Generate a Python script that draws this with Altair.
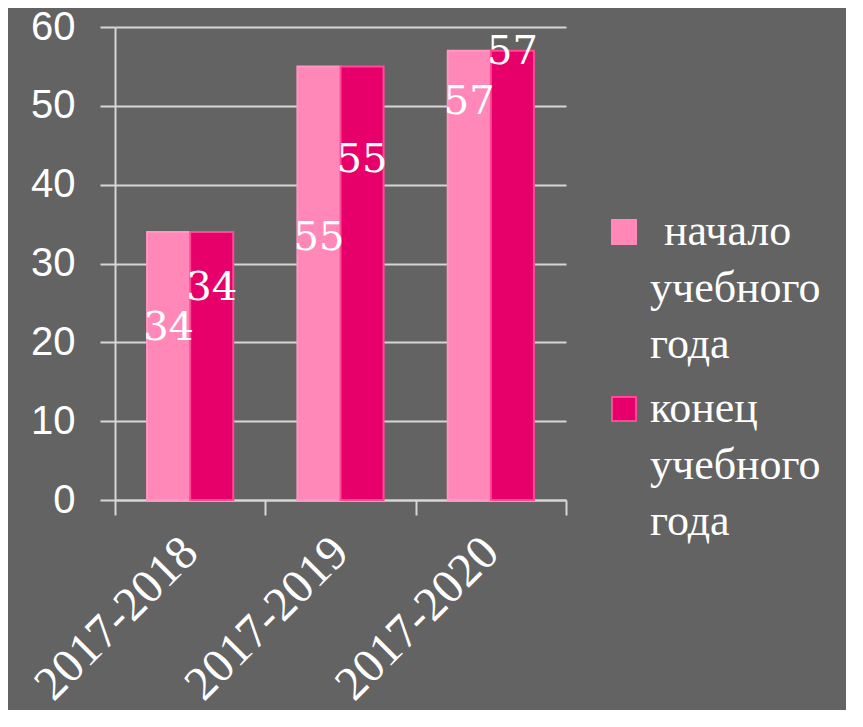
import altair as alt
import pandas as pd

years = ["2017-2018", "2017-2019", "2017-2020"]
series = ["начало учебного года", "конец учебного года"]
start_values = [34, 55, 57]
end_values = [34, 55, 57]
# how far (in axis units) each value label sits below its bar top
start_label_drop = [12.2, 21.8, 6.5]
end_label_drop = [7.1, 11.9, 0.2]
legend_lines = [["начало", "учебного", "года"], ["конец", "учебного", "года"]]
legend_first_indent = [14, 0]

fill_colors = ["#FF88B8", "#E8006A"]
stroke_colors = ["#FF97C2", "#FF4A95"]

rows = []
for i, yr in enumerate(years):
    rows.append({"year": yr, "series": series[0], "value": start_values[i],
                 "label_y": start_values[i] - start_label_drop[i]})
    rows.append({"year": yr, "series": series[1], "value": end_values[i],
                 "label_y": end_values[i] - end_label_drop[i]})
df = pd.DataFrame(rows)

GRID = "#D6D6D6"

x_enc = alt.X(
    "year:N", sort=years, title=None,
    scale=alt.Scale(paddingInner=0, paddingOuter=0),
    axis=alt.Axis(
        labelAngle=-45, labelFont="Liberation Serif", labelFontSize=48,
        labelColor="white", labelAlign="right", labelBaseline="middle",
        labelPadding=30, labelLimit=0, tickBand="extent", tickSize=15, tickWidth=2,
        tickColor=GRID, domainColor=GRID, domainWidth=2, grid=False,
    ),
)
xo_enc = alt.XOffset("series:N", sort=series,
                     scale=alt.Scale(paddingInner=0, paddingOuter=0.744))
y_scale = alt.Scale(domain=[0, 60], nice=False)

bars = alt.Chart(df).mark_bar(strokeWidth=2).encode(
    x=x_enc,
    xOffset=xo_enc,
    y=alt.Y("value:Q", scale=y_scale, title=None,
            axis=alt.Axis(values=[0, 10, 20, 30, 40, 50, 60], labelFont="Liberation Sans",
                          labelFontSize=40, labelColor="white", labelPadding=25,
                          tickSize=15, tickWidth=2, tickColor=GRID,
                          domainColor=GRID, domainWidth=2,
                          grid=True, gridColor=GRID, gridWidth=2)),
    color=alt.Color("series:N", sort=series,
                    scale=alt.Scale(domain=series, range=fill_colors), legend=None),
    stroke=alt.Stroke("series:N", sort=series,
                      scale=alt.Scale(domain=series, range=stroke_colors), legend=None),
)

labels = alt.Chart(df).mark_text(
    font="DejaVu Serif", fontSize=40, color="white", baseline="middle", align="center"
).encode(
    x=x_enc,
    xOffset=xo_enc,
    y=alt.Y("label_y:Q", scale=y_scale),
    text="value:Q",
)

legend_layers = []
legend_y = [205, 382]
for i, s in enumerate(series):
    ldf = pd.DataFrame([{"series": s, "first": legend_lines[i][0],
                         "rest": "|".join(legend_lines[i][1:])}])
    sq = alt.Chart(ldf).mark_square(
        size=576, color=fill_colors[i], stroke=stroke_colors[i] if i == 1 else fill_colors[i],
        strokeWidth=2, opacity=1,
    ).encode(x=alt.value(509), y=alt.value(legend_y[i]))
    first = alt.Chart(ldf).mark_text(
        font="Liberation Serif", fontSize=44, color="white", align="left",
        baseline="middle", dx=legend_first_indent[i],
    ).encode(x=alt.value(535), y=alt.value(legend_y[i]), text="first:N")
    rest = alt.Chart(ldf).mark_text(
        font="Liberation Serif", fontSize=44, color="white", align="left",
        baseline="middle", lineBreak="|", lineHeight=56, dy=57,
    ).encode(x=alt.value(535), y=alt.value(legend_y[i]), text="rest:N")
    legend_layers += [sq, first, rest]

chart = alt.layer(bars, labels, *legend_layers).properties(
    width=451, height=473,
    padding={"left": 107, "top": 19, "right": 280, "bottom": 210},
    autosize=alt.AutoSizeParams(type="none"),
    background="#636363",
).configure_view(stroke=None)

chart.save("out.html", embed_options={"renderer": "svg", "actions": False})
